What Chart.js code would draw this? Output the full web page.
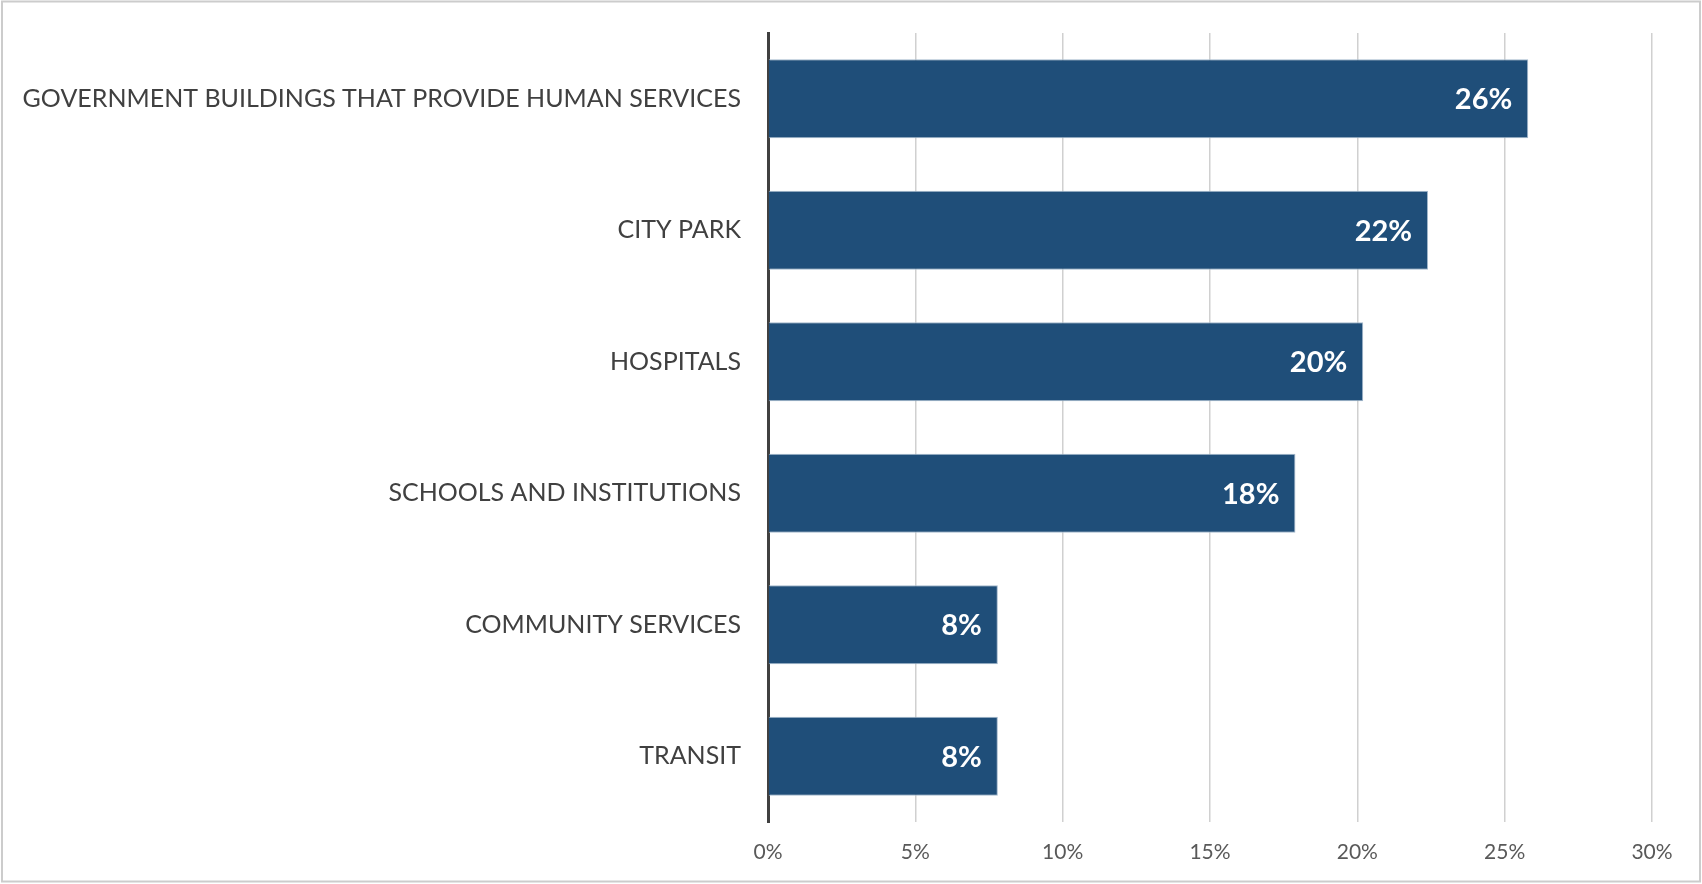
<!DOCTYPE html>
<html>
<head>
<meta charset="utf-8">
<title>Facility types</title>
<script src="https://cdn.jsdelivr.net/npm/chart.js@4/dist/chart.umd.min.js"></script>
<style>
    html, body { margin: 0; padding: 0; background: #fff; }
    canvas { display: block; }
</style>
</head>
<body>
<canvas id="facility-chart" width="1702" height="884"></canvas>
<script>
const categories = [
    'GOVERNMENT BUILDINGS THAT PROVIDE HUMAN SERVICES',
    'CITY PARK',
    'HOSPITALS',
    'SCHOOLS AND INSTITUTIONS',
    'COMMUNITY SERVICES',
    'TRANSIT'
];
const shares = [25.8, 22.4, 20.2, 17.9, 7.8, 7.8];
const tickValues = [0, 5, 10, 15, 20, 25, 30];

const FONT = 'Lato, "Open Sans", sans-serif';

// white percentage inside the end of each bar
const barLabels = {
    id: 'barLabels',
    afterDatasetsDraw(chart) {
        const g = chart.ctx;
        const meta = chart.getDatasetMeta(0);
        g.save();
        g.fillStyle = '#ffffff';
        g.font = 'bold 29px ' + FONT;
        g.textAlign = 'right';
        g.textBaseline = 'middle';
        meta.data.forEach((bar, i) => {
            g.fillText(Math.round(shares[i]) + '%', bar.x - 16, bar.y + 1);
        });
        g.restore();
    }
};

// thin frame round the whole chart
const frame = {
    id: 'frame',
    beforeDraw(chart) {
        const g = chart.ctx;
        g.save();
        g.strokeStyle = '#cccccc';
        g.lineWidth = 2;
        g.strokeRect(2, 1.5, chart.width - 4, chart.height - 4);
        g.restore();
    }
};

new Chart(document.getElementById('facility-chart'), {
    type: 'bar',
    data: {
        labels: categories,
        datasets: [{
            data: shares,
            backgroundColor: '#1f4e79',
            borderColor: '#a3b8cc',
            borderWidth: 1,
            barPercentage: 1,
            categoryPercentage: 0.6
        }]
    },
    options: {
        indexAxis: 'y',
        responsive: false,
        animation: false,
        layout: {
            padding: { top: 33, right: 50, bottom: 0, left: 0 }
        },
        scales: {
            x: {
                min: 0,
                max: 30,
                afterBuildTicks(scale) {
                    scale.ticks = tickValues.map(v => ({ value: v }));
                },
                afterFit(scale) {
                    scale.height = 62;
                },
                grid: {
                    color: '#d0d0d0',
                    lineWidth: 1.5,
                    drawTicks: false
                },
                border: { display: false },
                ticks: {
                    color: '#595959',
                    padding: 18,
                    font: { family: FONT, size: 21 },
                    callback: v => v + '%'
                }
            },
            y: {
                afterFit(scale) {
                    scale.width = 768;
                    // the long labels otherwise push the plot down
                    scale.paddingTop = 0;
                    scale.paddingBottom = 0;
                },
                grid: { display: false, drawTicks: false },
                border: { color: '#404040', width: 3 },
                ticks: {
                    color: '#404040',
                    padding: 27,
                    font: { family: FONT, size: 25 }
                }
            }
        },
        plugins: {
            legend: { display: false },
            tooltip: { enabled: false },
            title: { display: false }
        }
    },
    plugins: [frame, barLabels]
});
</script>
</body>
</html>
